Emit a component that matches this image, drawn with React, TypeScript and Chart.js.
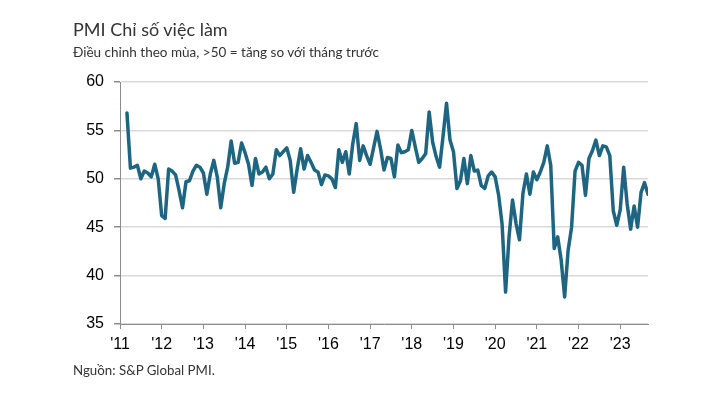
import React, { useEffect, useRef } from "react";
import { Chart, registerables } from "chart.js";

Chart.register(...registerables);

const TITLE = "PMI Chỉ số việc làm";
const SUBTITLE = "Điều chỉnh theo mùa, >50 = tăng so với tháng trước";
const SOURCE = "Nguồn: S&P Global PMI.";

// Monthly series, starting March 2011
const FIRST_YEAR = 2011;
const FIRST_MONTH = 3;
const v2011 = [56.8, 51.1, 51.2, 51.4, 50.0, 50.8, 50.6, 50.2, 51.5, 50.0];
const v2012 = [46.2, 45.9, 51.0, 50.8, 50.4, 48.8, 47.0, 49.7, 49.8, 50.8, 51.4, 51.2];
const v2013 = [50.6, 48.4, 50.5, 51.9, 50.2, 47.0, 49.5, 51.2, 53.9, 51.6, 51.7, 53.7];
const v2014 = [52.7, 51.5, 49.3, 52.1, 50.5, 50.7, 51.2, 50.0, 50.5, 53.0, 52.4, 52.8];
const v2015 = [53.2, 51.9, 48.6, 51.0, 53.1, 51.0, 52.4, 51.7, 50.9, 50.7, 49.4, 50.4];
const v2016 = [50.3, 50.0, 49.1, 53.0, 51.7, 52.8, 50.5, 53.6, 55.7, 51.9, 53.4, 52.4];
const v2017 = [51.5, 53.2, 54.9, 53.1, 50.9, 52.2, 52.1, 50.2, 53.5, 52.7, 52.8, 53.0];
const v2018 = [55.0, 53.3, 51.7, 52.1, 52.6, 56.9, 53.8, 52.3, 51.2, 54.4, 57.8, 54.0];
const v2019 = [52.8, 49.0, 49.8, 52.1, 49.5, 52.4, 50.8, 50.9, 49.3, 49.0, 50.3, 50.7];
const v2020 = [50.2, 48.3, 45.3, 38.3, 44.0, 47.8, 45.4, 43.7, 48.5, 50.5, 48.4, 50.7];
const v2021 = [49.9, 50.7, 51.7, 53.4, 51.4, 42.8, 44.0, 41.6, 37.8, 42.6, 45.0, 50.8];
const v2022 = [51.7, 51.4, 48.3, 52.1, 52.9, 54.0, 52.4, 53.4, 53.3, 52.4, 46.7, 45.2];
const v2023 = [46.8, 51.2, 47.4, 44.8, 47.2, 45.0, 48.6, 49.6, 48.4];

const SERIES = [
  ...v2011, ...v2012, ...v2013, ...v2014, ...v2015, ...v2016, ...v2017,
  ...v2018, ...v2019, ...v2020, ...v2021, ...v2022, ...v2023,
];

const Y_MIN = 35;
const Y_MAX = 60;
const Y_STEP = 5;
const YEAR_LABELS = ["'11", "'12", "'13", "'14", "'15", "'16", "'17", "'18", "'19", "'20", "'21", "'22", "'23"];

const LINE_COLOR = "#1e6582";
const TEXT_FONT = "Lato, 'Noto Sans', sans-serif";
const AXIS_FONT = "'Liberation Sans', Arial, sans-serif";

export default function App() {
  const canvasRef = useRef<HTMLCanvasElement | null>(null);

  useEffect(() => {
    const canvas = canvasRef.current;
    if (!canvas) return;
    const offset = FIRST_MONTH - 1;
    const points = SERIES.map((v, i) => ({ x: offset + i, y: v }));
    const lastX = offset + SERIES.length - 1;

    const chart = new Chart(canvas, {
      type: "line",
      data: {
        datasets: [
          {
            data: points,
            borderColor: LINE_COLOR,
            borderWidth: 3.5,
            pointRadius: 0,
            tension: 0,
            borderJoinStyle: "round",
            borderCapStyle: "round",
          },
        ],
      },
      options: {
        animation: false,
        responsive: false,
        maintainAspectRatio: false,
        layout: { padding: { top: 82, right: 71, bottom: 29, left: 0 } },
        plugins: { legend: { display: false }, tooltip: { enabled: false } },
        scales: {
          x: {
            type: "linear",
            min: 0,
            max: lastX,
            afterFit: (scale: any) => {
              scale.height = 40;
            },
            ticks: {
              stepSize: 12,
              includeBounds: false,
              autoSkip: false,
              maxRotation: 0,
              padding: 6,
              color: "#000",
              font: { family: AXIS_FONT, size: 16 },
              callback: (value: any) => {
                const idx = Math.round(Number(value) / 12);
                return YEAR_LABELS[idx] ?? "";
              },
            },
            grid: {
              drawOnChartArea: false,
              tickLength: 5,
              tickColor: "#8c8c8c",
            },
            border: { color: "#8c8c8c", width: 1 },
          },
          y: {
            min: Y_MIN,
            max: Y_MAX,
            afterFit: (scale: any) => {
              scale.width = 120;
            },
            ticks: {
              stepSize: Y_STEP,
              padding: 10,
              color: "#000",
              font: { family: AXIS_FONT, size: 16 },
            },
            grid: {
              color: "#d9d9d9",
              lineWidth: 1.5,
              tickLength: 6,
              tickColor: "#8c8c8c",
            },
            border: { color: "#8c8c8c", width: 1 },
          },
        },
      },
    });
    return () => chart.destroy();
  }, []);

  return (
    <div
      style={{
        position: "absolute",
        left: 0,
        top: 0,
        width: 719,
        height: 393,
        background: "#fff",
        overflow: "hidden",
      }}
    >
      <canvas
        ref={canvasRef}
        width={719}
        height={393}
        style={{ position: "absolute", left: 0, top: 0, width: 719, height: 393 }}
      />
      <div
        style={{
          position: "absolute",
          left: 73,
          top: 18.8,
          fontFamily: TEXT_FONT,
          fontSize: 18,
          lineHeight: 1.2,
          color: "#333",
          whiteSpace: "nowrap",
        }}
      >
        {TITLE}
      </div>
      <div
        style={{
          position: "absolute",
          left: 73,
          top: 44.2,
          fontFamily: TEXT_FONT,
          fontSize: 13.5,
          lineHeight: 1.2,
          color: "#333",
          whiteSpace: "nowrap",
        }}
      >
        {SUBTITLE}
      </div>
      <div
        style={{
          position: "absolute",
          left: 73,
          top: 362.9,
          fontFamily: TEXT_FONT,
          fontSize: 13.3,
          lineHeight: 1.2,
          color: "#333",
          whiteSpace: "nowrap",
        }}
      >
        {SOURCE}
      </div>
    </div>
  );
}
